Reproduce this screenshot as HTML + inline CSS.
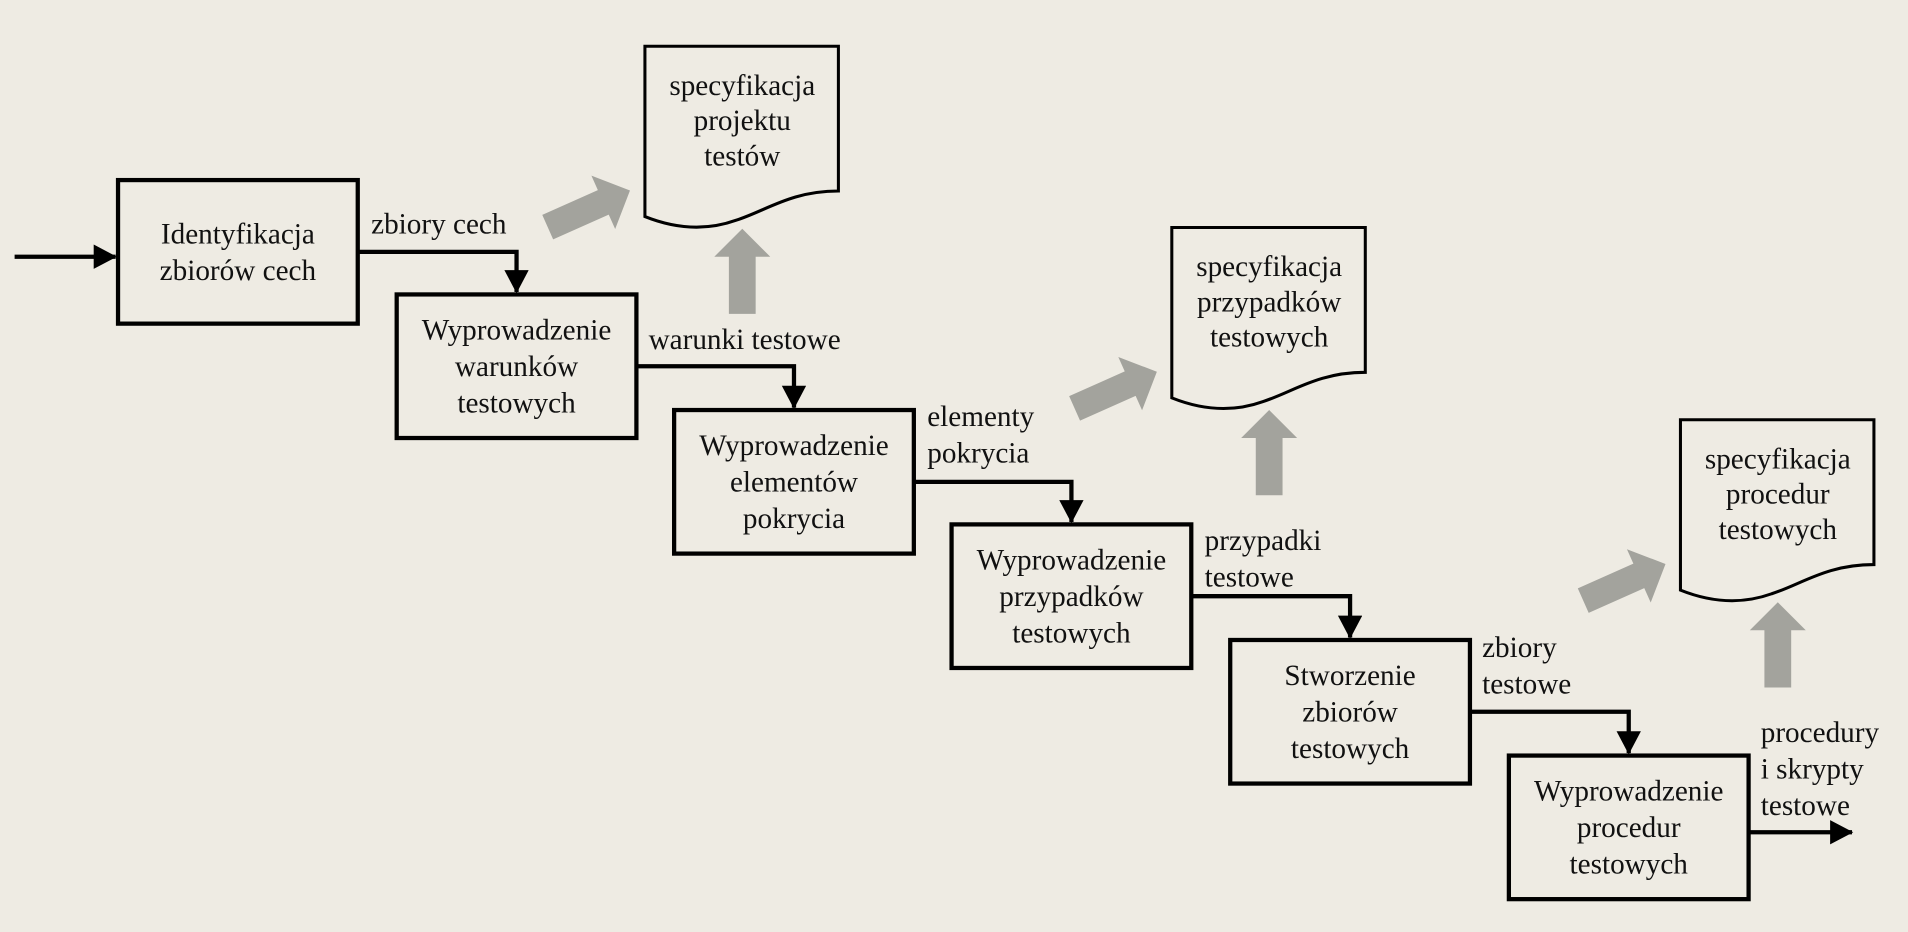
<!DOCTYPE html>
<html><head><meta charset="utf-8"><style>
html,body{margin:0;padding:0;background:#eeebe3;}
svg{display:block}
text{font-family:"Liberation Serif",serif;font-size:24px;fill:#111;}
</style></head><body>
<svg width="1908" height="932" viewBox="0 0 1568 766" preserveAspectRatio="none">
<defs>
<marker id="ah2" markerWidth="20" markerHeight="22" refX="18" refY="10" orient="auto" markerUnits="userSpaceOnUse"><path d="M0,0L19,10L0,20Z" fill="#000"/></marker></defs>
<rect width="1568" height="766" fill="#eeebe3"/>
<g id="docs" fill="none" stroke="#000" stroke-width="2.5"></g>
<g id="garrows" fill="#a3a39d"></g>
<g id="lines" fill="none" stroke="#000" stroke-width="3.5"></g>
<g id="boxes"></g>
<g id="labels"></g>
</svg>
<script>
const NS='http://www.w3.org/2000/svg';
function mk(t,a,p){const e=document.createElementNS(NS,t);for(const k in a)e.setAttribute(k,a[k]);p.appendChild(e);return e;}
const boxes=[
 {x:97,y:148,l:["Identyfikacja","zbiorów cech"]},
 {x:326,y:242,l:["Wyprowadzenie","warunków","testowych"]},
 {x:554,y:337,l:["Wyprowadzenie","elementów","pokrycia"]},
 {x:782,y:431,l:["Wyprowadzenie","przypadków","testowych"]},
 {x:1011,y:526,l:["Stworzenie","zbiorów","testowych"]},
 {x:1240,y:621,l:["Wyprowadzenie","procedur","testowych"]}];
const flowLabels=[["zbiory cech"],["warunki testowe"],["elementy","pokrycia"],["przypadki","testowe"],["zbiory","testowe"],["procedury","i skrypty","testowe"]];
const W=197,H=118;
const bg=document.getElementById('boxes'),lg=document.getElementById('lines'),lb=document.getElementById('labels');
boxes.forEach((b,i)=>{
 const g=mk('g',{},bg);
 
 
 mk('rect',{x:b.x,y:b.y,width:W,height:H,fill:'none',stroke:'#000','stroke-width':3.5},g);
 const n=b.l.length, cy=b.y+H/2, y0=cy-(n-1)*15+8;
 b.l.forEach((t,j)=>{const tx=mk('text',{x:b.x+W/2,y:y0+j*30,'text-anchor':'middle'},g);tx.textContent=t;});
});
const inp=mk('line',{x1:12,y1:211,x2:95,y2:211,stroke:'#000','stroke-width':3.5,'marker-end':'url(#ah2)'},lg);


const outY=[207,301,396,490,585];
for(let i=0;i<5;i++){
 const b=boxes[i],n=boxes[i+1],mx=n.x+W/2;
 const p=mk('path',{d:`M${b.x+W},${outY[i]}H${mx}V${n.y-2}`,'marker-end':'url(#ah2)'},lg);
 
 
}
const out=mk('line',{x1:1437,y1:684,x2:1522,y2:684,stroke:'#000','stroke-width':3.5,'marker-end':'url(#ah2)'},lg);


const lpos=[[305,192],[533,287],[762,350],[990,452],[1218,540],[1447,610]];
flowLabels.forEach((ls,i)=>{
 const g=mk('g',{},lb);
 
 
 ls.forEach((t,j)=>{const tx=mk('text',{x:lpos[i][0],y:lpos[i][1]+j*30},g);tx.textContent=t;});
});
const docs=[{x:530,y:38,l:["specyfikacja","projektu","testów"]},{x:963,y:187,l:["specyfikacja","przypadków","testowych"]},{x:1381,y:345,l:["specyfikacja","procedur","testowych"]}];
const dg=document.getElementById('docs'),ga=document.getElementById('garrows');
docs.forEach((d,i)=>{
 const g=mk('g',{},dg);
 
 
 const x=d.x,y=d.y;
 mk('path',{d:`M${x},${y}H${x+159}V${y+119}C${x+120},${y+119} ${x+100},${y+135} ${x+75},${y+143}C${x+50},${y+152} ${x+25},${y+150} ${x},${y+140}Z`,fill:'none',stroke:'#000','stroke-width':2.5},g);
 d.l.forEach((t,j)=>{const tx=mk('text',{x:x+80,y:y+40+j*29,'text-anchor':'middle',stroke:'none'},g);tx.textContent=t;});
 const da=mk('polygon',{points:'-36,-11 14,-11 14,-24 38,0 14,24 14,11 -36,11',transform:`translate(${x-47},${y+134}) rotate(-24)`},ga);
 
 
 const cx=x+80,tip=y+150,bot=y+220;
 const va=mk('polygon',{points:`${cx},${tip} ${cx+23},${tip+23} ${cx+11},${tip+23} ${cx+11},${bot} ${cx-11},${bot} ${cx-11},${tip+23} ${cx-23},${tip+23}`},ga);
 
 
});
</script>
</body></html>
